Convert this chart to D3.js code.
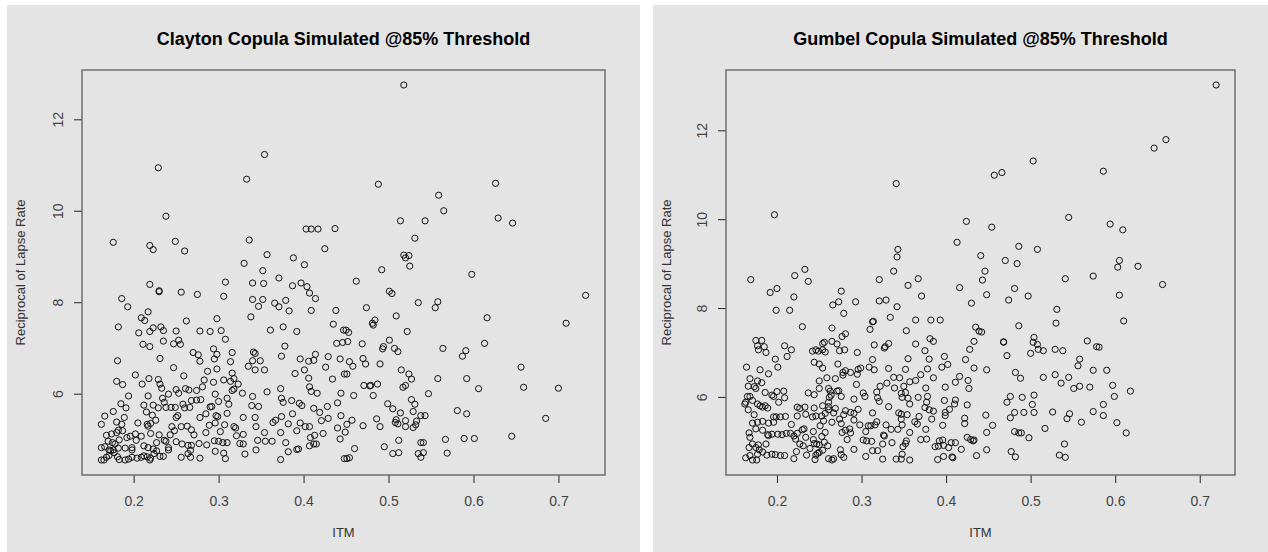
<!DOCTYPE html>
<html>
<head>
<meta charset="utf-8">
<script src="https://cdn.jsdelivr.net/npm/d3@7"></script>
<style>
body { margin: 0; background: #fff; }
svg { display: block; font-family: "Liberation Sans", Arial, sans-serif; }
</style>
</head>
<body>
<svg id="chart" width="1268" height="552"></svg>
<script>
// simulated points [ITM, reciprocal of lapse rate]
const claytonPoints = [
[0.357,9.04],[0.388,8.97],[0.401,8.82],[0.330,8.85],[0.352,8.69],[0.371,8.53],[0.219,8.39],[0.230,8.25],[0.230,8.23],[0.256,8.22],
[0.275,8.17],[0.308,8.44],[0.340,8.42],[0.353,8.41],[0.387,8.36],[0.397,8.42],[0.404,8.34],[0.407,8.20],[0.414,8.08],[0.186,8.08],
[0.193,7.90],[0.306,8.13],[0.340,8.06],[0.352,8.06],[0.366,7.98],[0.371,7.90],[0.379,8.04],[0.383,7.81],[0.347,7.91],[0.409,7.82],
[0.438,7.82],[0.217,7.79],[0.209,7.66],[0.213,7.60],[0.262,7.59],[0.298,7.64],[0.338,7.68],[0.435,7.52],[0.447,7.39],[0.182,7.46],
[0.206,7.33],[0.219,7.36],[0.223,7.44],[0.232,7.46],[0.235,7.38],[0.250,7.37],[0.278,7.37],[0.290,7.36],[0.303,7.38],[0.308,7.19],
[0.361,7.39],[0.376,7.46],[0.392,7.36],[0.211,7.08],[0.219,7.03],[0.235,7.15],[0.247,7.09],[0.253,7.17],[0.255,7.08],[0.439,7.10],
[0.446,7.12],[0.378,7.04],[0.181,6.72],[0.231,6.77],[0.270,6.90],[0.276,6.85],[0.278,6.71],[0.294,6.98],[0.298,6.86],[0.295,6.76],
[0.314,6.70],[0.316,6.90],[0.341,6.91],[0.343,6.88],[0.340,6.72],[0.349,6.72],[0.335,6.60],[0.343,6.52],[0.354,6.52],[0.374,6.82],
[0.396,6.76],[0.406,6.71],[0.414,6.86],[0.412,6.73],[0.429,6.81],[0.443,6.76],[0.247,6.57],[0.202,6.41],[0.180,6.27],[0.187,6.20],
[0.210,6.21],[0.218,6.33],[0.229,6.31],[0.231,6.21],[0.233,6.12],[0.259,6.39],[0.287,6.49],[0.298,6.54],[0.316,6.45],[0.318,6.33],
[0.323,6.21],[0.314,6.27],[0.306,6.30],[0.294,6.25],[0.283,6.30],[0.281,6.15],[0.274,6.07],[0.265,6.08],[0.261,6.11],[0.250,6.09],
[0.253,6.01],[0.241,5.99],[0.194,5.95],[0.217,5.95],[0.234,5.90],[0.236,5.81],[0.238,5.70],[0.229,5.69],[0.223,5.75],[0.212,5.75],
[0.215,5.60],[0.222,5.53],[0.185,5.78],[0.191,5.69],[0.244,5.70],[0.249,5.70],[0.258,5.77],[0.260,5.69],[0.266,5.70],[0.268,5.85],
[0.274,5.86],[0.279,5.87],[0.290,5.71],[0.296,5.99],[0.300,5.83],[0.310,5.90],[0.312,5.77],[0.310,5.57],[0.316,6.07],[0.318,6.10],
[0.328,6.01],[0.340,5.94],[0.339,5.74],[0.347,5.72],[0.357,6.04],[0.373,6.11],[0.374,5.90],[0.376,5.81],[0.386,5.85],[0.395,5.79],
[0.398,5.74],[0.407,6.15],[0.409,6.05],[0.416,6.01],[0.390,6.44],[0.401,6.52],[0.406,6.34],[0.426,6.58],[0.434,6.32],[0.448,6.43],
[0.444,6.01],[0.440,5.80],[0.428,5.72],[0.412,5.68],[0.419,5.59],[0.429,5.46],[0.421,5.41],[0.444,5.52],[0.440,5.25],[0.443,5.01],
[0.448,4.58],[0.423,5.13],[0.413,5.09],[0.408,5.04],[0.407,5.28],[0.402,5.28],[0.396,5.36],[0.392,5.19],[0.382,5.34],[0.374,5.50],
[0.367,5.42],[0.364,5.37],[0.387,5.56],[0.373,5.15],[0.379,4.93],[0.382,4.73],[0.392,4.78],[0.394,4.79],[0.407,4.86],[0.412,4.90],
[0.415,4.90],[0.373,4.56],[0.363,4.96],[0.355,4.96],[0.346,4.98],[0.354,5.15],[0.344,5.28],[0.343,5.48],[0.329,5.48],[0.320,5.25],
[0.318,5.28],[0.321,5.08],[0.329,5.11],[0.329,4.90],[0.331,4.68],[0.344,4.77],[0.308,4.58],[0.306,4.70],[0.296,4.74],[0.295,4.97],
[0.300,4.96],[0.305,4.93],[0.310,4.93],[0.285,5.15],[0.289,5.31],[0.297,5.52],[0.299,5.50],[0.296,5.36],[0.307,5.32],[0.302,5.17],
[0.278,5.48],[0.285,5.56],[0.292,5.72],[0.277,4.91],[0.286,4.88],[0.271,5.10],[0.268,5.21],[0.263,5.29],[0.256,5.28],[0.252,5.52],
[0.250,5.48],[0.248,5.19],[0.250,4.95],[0.245,5.28],[0.243,5.10],[0.236,4.98],[0.238,4.96],[0.241,4.77],[0.241,4.82],[0.230,5.10],
[0.227,4.93],[0.223,4.79],[0.224,4.69],[0.220,4.59],[0.219,4.55],[0.216,4.62],[0.212,4.64],[0.209,4.61],[0.204,4.59],[0.198,4.61],
[0.194,4.57],[0.190,4.55],[0.183,4.56],[0.181,4.62],[0.177,4.71],[0.173,4.75],[0.171,4.65],[0.168,4.61],[0.165,4.55],[0.162,4.55],
[0.162,4.82],[0.166,4.84],[0.170,4.96],[0.168,5.09],[0.174,5.12],[0.180,5.15],[0.187,5.19],[0.192,5.04],[0.196,5.07],[0.202,5.12],
[0.203,4.98],[0.198,4.82],[0.198,4.77],[0.190,4.81],[0.182,4.81],[0.178,4.90],[0.176,4.77],[0.171,4.77],[0.175,4.93],[0.183,4.99],
[0.186,5.33],[0.180,5.38],[0.176,5.61],[0.166,5.51],[0.162,5.33],[0.182,5.20],[0.189,5.48],[0.205,5.36],[0.216,5.33],[0.217,5.29],
[0.220,5.35],[0.226,5.42],[0.220,5.13],[0.209,5.07],[0.212,4.86],[0.217,4.82],[0.227,4.75],[0.231,4.63],[0.235,4.63],[0.256,4.61],
[0.264,4.69],[0.267,4.76],[0.267,4.61],[0.278,4.59],[0.264,4.87],[0.268,4.87],[0.257,4.90],[0.325,4.91],
[0.518,9.03],[0.524,9.02],[0.520,8.97],[0.525,8.79],[0.492,8.71],[0.462,8.46],[0.598,8.61],[0.732,8.15],[0.501,8.24],[0.504,8.19],
[0.535,7.99],[0.558,8.01],[0.555,7.88],[0.474,7.88],[0.509,7.70],[0.616,7.66],[0.709,7.54],[0.484,7.61],[0.481,7.54],[0.482,7.50],
[0.453,7.34],[0.450,7.39],[0.452,7.14],[0.469,7.09],[0.501,7.17],[0.522,7.36],[0.564,6.99],[0.591,6.94],[0.587,6.82],[0.613,7.10],
[0.494,7.03],[0.493,6.98],[0.507,6.99],[0.511,6.92],[0.454,6.70],[0.458,6.60],[0.470,6.77],[0.473,6.65],[0.490,6.65],[0.451,6.43],
[0.515,6.52],[0.524,6.43],[0.527,6.32],[0.558,6.33],[0.592,6.33],[0.606,6.11],[0.656,6.58],[0.659,6.14],[0.700,6.12],[0.471,6.18],
[0.478,6.17],[0.479,6.18],[0.487,6.21],[0.517,6.14],[0.520,6.18],[0.459,5.96],[0.482,5.96],[0.547,6.00],[0.527,5.87],[0.531,5.77],
[0.499,5.78],[0.505,5.67],[0.514,5.58],[0.529,5.61],[0.538,5.52],[0.543,5.52],[0.581,5.63],[0.592,5.56],[0.685,5.46],[0.645,5.07],
[0.457,5.42],[0.451,5.33],[0.470,5.30],[0.486,5.45],[0.490,5.28],[0.509,5.43],[0.508,5.37],[0.511,5.34],[0.520,5.41],[0.520,5.28],
[0.529,5.26],[0.532,5.32],[0.533,5.40],[0.512,4.98],[0.538,4.93],[0.541,4.93],[0.567,5.00],[0.589,5.02],[0.601,5.02],[0.495,4.84],
[0.460,4.80],[0.451,4.58],[0.454,4.60],[0.505,4.69],[0.512,4.71],[0.535,4.69],[0.541,4.71],[0.538,4.61],[0.569,4.70],[0.449,5.16],
[0.518,12.75],[0.354,11.23],[0.229,10.94],[0.333,10.69],[0.488,10.58],[0.626,10.60],[0.559,10.34],[0.565,10.00],[0.629,9.84],[0.646,9.73],
[0.514,9.78],[0.543,9.78],[0.531,9.40],[0.238,9.88],[0.176,9.31],[0.219,9.24],[0.223,9.15],[0.249,9.33],[0.260,9.12],[0.336,9.36],
[0.403,9.60],[0.409,9.60],[0.417,9.60],[0.437,9.61],[0.425,9.17]
];

const gumbelPoints = [
[0.342,9.15],[0.441,9.18],[0.446,8.83],[0.443,8.63],[0.338,8.83],[0.169,8.64],[0.221,8.73],[0.233,8.87],[0.237,8.60],[0.321,8.64],
[0.355,8.51],[0.367,8.66],[0.416,8.46],[0.371,8.27],[0.448,8.30],[0.192,8.35],[0.200,8.44],[0.220,8.25],[0.276,8.38],[0.266,8.07],
[0.273,8.14],[0.293,8.14],[0.279,7.88],[0.321,8.16],[0.329,8.18],[0.342,8.03],[0.430,8.11],[0.199,7.95],[0.215,7.95],[0.230,7.58],
[0.265,7.55],[0.313,7.69],[0.314,7.70],[0.310,7.52],[0.334,7.79],[0.364,7.73],[0.382,7.73],[0.393,7.73],[0.353,7.49],[0.435,7.57],
[0.439,7.48],[0.442,7.46],[0.433,7.25],[0.428,7.07],[0.423,6.84],[0.433,6.65],[0.448,6.61],[0.381,7.31],[0.385,7.25],[0.364,7.19],
[0.375,7.04],[0.380,6.85],[0.398,6.91],[0.402,6.73],[0.395,6.67],[0.378,6.63],[0.385,6.43],[0.370,6.50],[0.364,6.37],[0.357,6.34],
[0.350,6.24],[0.352,6.10],[0.347,6.08],[0.348,5.99],[0.355,5.97],[0.357,5.84],[0.367,5.99],[0.376,6.20],[0.378,6.01],[0.377,5.88],
[0.375,5.76],[0.380,5.71],[0.385,5.68],[0.383,5.50],[0.368,5.56],[0.363,5.44],[0.366,5.39],[0.376,5.27],[0.370,5.04],[0.377,5.05],
[0.357,5.20],[0.354,5.60],[0.347,5.61],[0.344,5.64],[0.347,5.50],[0.343,5.27],[0.348,5.37],[0.335,5.27],[0.329,5.37],[0.326,5.14],
[0.325,4.94],[0.327,5.12],[0.336,4.97],[0.332,5.78],[0.321,5.90],[0.319,5.98],[0.318,6.11],[0.322,6.24],[0.330,6.31],[0.339,6.20],
[0.345,6.43],[0.338,6.44],[0.332,6.64],[0.352,6.62],[0.355,6.86],[0.332,7.20],[0.328,7.13],[0.327,7.10],[0.315,7.17],[0.313,6.84],
[0.309,6.67],[0.315,6.61],[0.299,6.65],[0.296,6.62],[0.287,6.55],[0.281,6.59],[0.278,6.49],[0.295,6.51],[0.294,6.28],[0.302,6.09],
[0.304,6.01],[0.291,5.95],[0.296,5.72],[0.287,5.65],[0.291,5.63],[0.281,5.69],[0.279,5.60],[0.274,5.50],[0.276,5.40],[0.267,5.64],
[0.269,5.74],[0.261,5.71],[0.257,5.63],[0.253,5.57],[0.246,5.57],[0.242,5.55],[0.234,5.61],[0.227,5.74],[0.233,5.77],[0.224,5.57],
[0.217,5.38],[0.210,5.56],[0.204,5.55],[0.199,5.55],[0.196,5.55],[0.196,5.43],[0.190,5.41],[0.183,5.45],[0.177,5.43],[0.171,5.41],
[0.175,5.28],[0.183,5.25],[0.189,5.15],[0.187,4.94],[0.190,5.13],[0.194,5.16],[0.201,5.16],[0.206,5.15],[0.211,5.18],[0.216,5.18],
[0.220,5.12],[0.222,5.05],[0.224,5.18],[0.230,5.26],[0.232,5.28],[0.234,5.09],[0.227,4.94],[0.231,4.90],[0.223,4.77],[0.220,4.61],
[0.209,4.68],[0.204,4.68],[0.198,4.70],[0.194,4.71],[0.188,4.69],[0.183,4.76],[0.179,4.81],[0.177,4.71],[0.176,4.58],[0.171,4.58],
[0.168,4.68],[0.163,4.63],[0.167,4.86],[0.168,5.09],[0.171,4.94],[0.167,5.19],[0.175,4.86],[0.178,4.92],[0.244,5.75],[0.237,6.09],
[0.244,6.05],[0.250,6.36],[0.250,6.19],[0.259,6.43],[0.269,6.41],[0.278,6.55],[0.272,6.74],[0.261,6.19],[0.263,6.13],[0.262,5.99],
[0.264,6.04],[0.261,5.88],[0.271,6.13],[0.276,6.01],[0.273,6.14],[0.254,5.80],[0.261,5.78],[0.265,5.43],[0.255,5.46],[0.251,5.35],
[0.257,5.20],[0.253,5.11],[0.243,5.22],[0.243,5.04],[0.244,4.95],[0.247,4.94],[0.250,4.92],[0.250,4.75],[0.248,4.73],[0.246,4.69],
[0.254,4.80],[0.260,4.90],[0.256,4.98],[0.239,4.84],[0.235,4.69],[0.245,4.59],[0.261,4.61],[0.265,4.58],[0.267,4.61],[0.279,4.64],
[0.275,4.81],[0.276,4.70],[0.291,4.82],[0.287,5.19],[0.283,5.04],[0.277,5.20],[0.281,5.25],[0.286,5.28],[0.291,5.48],[0.298,5.37],
[0.305,5.22],[0.306,5.01],[0.312,5.00],[0.302,5.03],[0.308,5.35],[0.311,5.35],[0.316,5.37],[0.318,5.44],[0.313,5.64],[0.305,4.66],
[0.313,4.79],[0.319,4.79],[0.325,4.60],[0.341,4.60],[0.348,4.71],[0.357,4.58],[0.347,4.60],[0.349,4.88],[0.353,5.01],[0.352,4.95],
[0.390,4.59],[0.397,4.66],[0.408,4.63],[0.407,4.65],[0.418,4.82],[0.411,4.97],[0.406,4.97],[0.403,4.86],[0.397,4.91],[0.391,4.89],
[0.387,4.88],[0.396,5.03],[0.392,5.01],[0.425,5.09],[0.429,5.04],[0.432,5.01],[0.433,5.03],[0.436,4.68],[0.448,4.81],[0.448,5.20],
[0.447,5.59],[0.422,5.52],[0.422,5.40],[0.425,5.82],[0.410,5.84],[0.411,5.93],[0.404,5.72],[0.399,5.58],[0.399,5.65],[0.396,5.36],
[0.398,5.92],[0.399,6.22],[0.411,6.33],[0.416,6.46],[0.426,6.37],[0.427,6.19],[0.164,6.67],[0.180,6.61],[0.190,6.52],[0.201,6.67],
[0.212,6.91],[0.209,7.15],[0.217,7.06],[0.198,6.85],[0.175,7.27],[0.182,7.27],[0.177,7.15],[0.178,7.06],[0.185,7.13],[0.187,7.00],
[0.168,6.41],[0.177,6.36],[0.166,6.24],[0.173,6.23],[0.175,6.19],[0.182,6.32],[0.168,6.01],[0.165,6.01],[0.163,5.88],[0.162,5.84],
[0.166,5.71],[0.173,5.60],[0.171,5.92],[0.177,5.84],[0.180,5.80],[0.183,5.77],[0.186,5.80],[0.189,5.75],[0.186,6.10],[0.194,6.04],
[0.200,6.12],[0.208,6.13],[0.209,5.98],[0.202,5.88],[0.196,6.01],[0.224,5.77],[0.242,7.03],[0.244,6.78],[0.250,6.74],[0.254,6.65],
[0.254,7.06],[0.257,7.01],[0.249,7.03],[0.246,7.06],[0.256,7.23],[0.254,7.20],[0.265,7.25],[0.271,7.19],[0.274,7.04],[0.280,7.06],
[0.277,7.36],[0.281,7.42],[0.295,7.00],
[0.470,9.07],[0.484,9.00],[0.605,9.07],[0.603,8.92],[0.627,8.94],[0.656,8.53],[0.541,8.66],[0.574,8.72],[0.481,8.44],[0.497,8.27],
[0.474,8.18],[0.605,8.29],[0.531,7.97],[0.530,7.66],[0.610,7.71],[0.486,7.60],[0.468,7.23],[0.468,7.24],[0.504,7.34],[0.503,7.23],
[0.508,7.18],[0.509,7.07],[0.515,7.04],[0.500,6.98],[0.472,6.93],[0.529,7.07],[0.538,7.04],[0.567,7.26],[0.578,7.13],[0.581,7.12],
[0.558,6.85],[0.556,6.70],[0.574,6.60],[0.590,6.60],[0.482,6.55],[0.488,6.42],[0.515,6.44],[0.529,6.50],[0.545,6.44],[0.536,6.31],
[0.551,6.19],[0.558,6.24],[0.570,6.22],[0.597,6.26],[0.618,6.13],[0.599,6.01],[0.476,6.01],[0.472,5.88],[0.490,5.99],[0.504,6.04],
[0.502,5.83],[0.481,5.65],[0.476,5.53],[0.492,5.65],[0.504,5.65],[0.526,5.66],[0.546,5.62],[0.543,5.51],[0.560,5.43],[0.574,5.67],
[0.586,5.83],[0.586,5.58],[0.602,5.42],[0.613,5.19],[0.455,5.36],[0.481,5.22],[0.486,5.19],[0.489,5.19],[0.498,5.08],[0.517,5.29],
[0.540,4.94],[0.477,4.77],[0.482,4.65],[0.534,4.69],[0.541,4.64],
[0.7194,13.02],[0.660,11.79],[0.646,11.60],[0.503,11.31],[0.457,10.99],[0.466,11.05],[0.586,11.08],[0.341,10.80],[0.197,10.10],[0.424,9.95],
[0.454,9.82],[0.545,10.04],[0.594,9.89],[0.609,9.76],[0.413,9.48],[0.486,9.39],[0.508,9.32],[0.343,9.32]
];

const xTicks = [0.2, 0.3, 0.4, 0.5, 0.6, 0.7];
const yTicks = [6, 8, 10, 12];
const titles = ["Clayton Copula Simulated @85% Threshold", "Gumbel Copula Simulated @85% Threshold"];
const xLabel = "ITM";
const yLabel = "Reciprocal of Lapse Rate";

const svg = d3.select("#chart");

// R style: data range widened by 4% on each side
function padded(ext) {
  var r = ext[1] - ext[0];
  return [ext[0] - 0.04 * r, ext[1] + 0.04 * r];
}

function drawPanel(data, title, p) {
  var top = 70, bottom = 475;

  svg.append("rect")
    .attr("x", p.x0).attr("y", 5)
    .attr("width", p.w).attr("height", 547)
    .attr("fill", "#e4e4e4");

  var x = d3.scaleLinear()
    .domain(padded(d3.extent(data, d => d[0])))
    .range([p.left, p.right]);
  var y = d3.scaleLinear()
    .domain(padded(d3.extent(data, d => d[1])))
    .range([bottom, top]);

  var g = svg.append("g");

  // points
  g.selectAll("circle")
    .data(data)
    .enter().append("circle")
    .attr("cx", d => x(d[0]))
    .attr("cy", d => y(d[1]))
    .attr("r", 3.1)
    .attr("fill", "none")
    .attr("stroke", "#111")
    .attr("stroke-width", 1);

  // x axis
  var xa = g.append("g")
    .attr("transform", "translate(0," + bottom + ")")
    .call(d3.axisBottom(x).tickValues(xTicks).tickSize(8).tickPadding(13).tickFormat(d3.format(".1f")));
  xa.select(".domain").remove();
  xa.selectAll("line").attr("stroke", "#222");
  xa.selectAll("text").attr("fill", "#444").style("font-size", "14px")
    .style("font-family", "'Liberation Sans', Arial, sans-serif");

  // y axis, labels turned like R's las = 0
  var ya = g.append("g")
    .attr("transform", "translate(" + p.left + ",0)")
    .call(d3.axisLeft(y).tickValues(yTicks).tickSize(8));
  ya.select(".domain").remove();
  ya.selectAll("line").attr("stroke", "#222");
  ya.selectAll("text")
    .attr("x", null).attr("dy", null)
    .attr("text-anchor", "middle")
    .attr("transform", "translate(-19,0) rotate(-90)")
    .attr("fill", "#444").style("font-size", "14px")
    .style("font-family", "'Liberation Sans', Arial, sans-serif");

  // box
  g.append("rect")
    .attr("x", p.left).attr("y", top)
    .attr("width", p.right - p.left).attr("height", bottom - top)
    .attr("fill", "none")
    .attr("stroke", "#6e6e6e")
    .attr("stroke-width", 1.5);

  var cx = (p.left + p.right) / 2;

  svg.append("text")
    .attr("x", cx).attr("y", 45)
    .attr("text-anchor", "middle")
    .style("font-size", "18px").style("font-weight", "bold")
    .attr("fill", "#000")
    .text(title);

  svg.append("text")
    .attr("x", cx).attr("y", 537)
    .attr("text-anchor", "middle")
    .style("font-size", "13px")
    .attr("fill", "#333")
    .text(xLabel);

  svg.append("text")
    .attr("transform", "translate(" + (p.x0 + 18) + "," + ((top + bottom) / 2) + ") rotate(-90)")
    .attr("text-anchor", "middle")
    .style("font-size", "13px")
    .attr("fill", "#333")
    .text(yLabel);
}

drawPanel(claytonPoints, titles[0], {x0: 7, w: 633, left: 82, right: 605});
drawPanel(gumbelPoints, titles[1], {x0: 653, w: 615, left: 726, right: 1235});
</script>
</body>
</html>
